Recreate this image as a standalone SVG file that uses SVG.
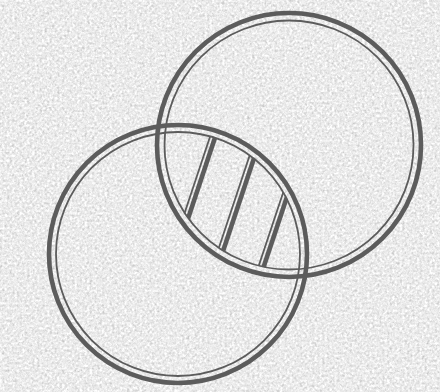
<svg xmlns="http://www.w3.org/2000/svg" width="440" height="392" viewBox="0 0 440 392">
<defs>
<style>
.outer{fill:none;stroke:#5c5c5c;stroke-width:4.6}
.inner{fill:none;stroke:#5c5c5c;stroke-width:1.8}
.st-thick{stroke:#5c5c5c;stroke-width:4.6}
.st-thin{stroke:#5c5c5c;stroke-width:1.8}
</style>
<filter id="paper" x="0" y="0" width="100%" height="100%" color-interpolation-filters="sRGB">
<feTurbulence type="fractalNoise" baseFrequency="0.4" numOctaves="4" seed="7"/>
<feColorMatrix type="matrix" values="0.33 0.33 0.33 0 0  0.33 0.33 0.33 0 0  0.33 0.33 0.33 0 0  0 0 0 0 1"/>
<feComponentTransfer>
<feFuncR type="linear" slope="0.55" intercept="0.65"/>
<feFuncG type="linear" slope="0.55" intercept="0.65"/>
<feFuncB type="linear" slope="0.55" intercept="0.65"/>
</feComponentTransfer>
</filter>
<clipPath id="clipLeft"><circle cx="178" cy="254" r="122"/></clipPath>
<clipPath id="clipRight"><circle cx="289" cy="145" r="124.5"/></clipPath>
</defs>
<rect width="440" height="392" fill="#e6e6e6"/>
<rect width="440" height="392" filter="url(#paper)"/>
<g id="circle-right">
<circle class="outer" cx="289" cy="145" r="132"/>
<circle class="inner" cx="289" cy="145" r="124.5"/>
</g>
<g id="circle-left">
<circle class="outer" cx="178" cy="254" r="129"/>
<circle class="inner" cx="178" cy="254" r="122"/>
</g>
<g id="intersection-hatch" clip-path="url(#clipLeft)">
<g clip-path="url(#clipRight)">
<g transform="rotate(18.43)">
<line class="st-thick" x1="247.5" y1="-200" x2="247.5" y2="500"/>
<line class="st-thin" x1="242.5" y1="-200" x2="242.5" y2="500"/>
<line class="st-thick" x1="291" y1="-200" x2="291" y2="500"/>
<line class="st-thin" x1="286" y1="-200" x2="286" y2="500"/>
<line class="st-thick" x1="334.5" y1="-200" x2="334.5" y2="500"/>
<line class="st-thin" x1="329.5" y1="-200" x2="329.5" y2="500"/>
</g>
</g>
</g>
</svg>
